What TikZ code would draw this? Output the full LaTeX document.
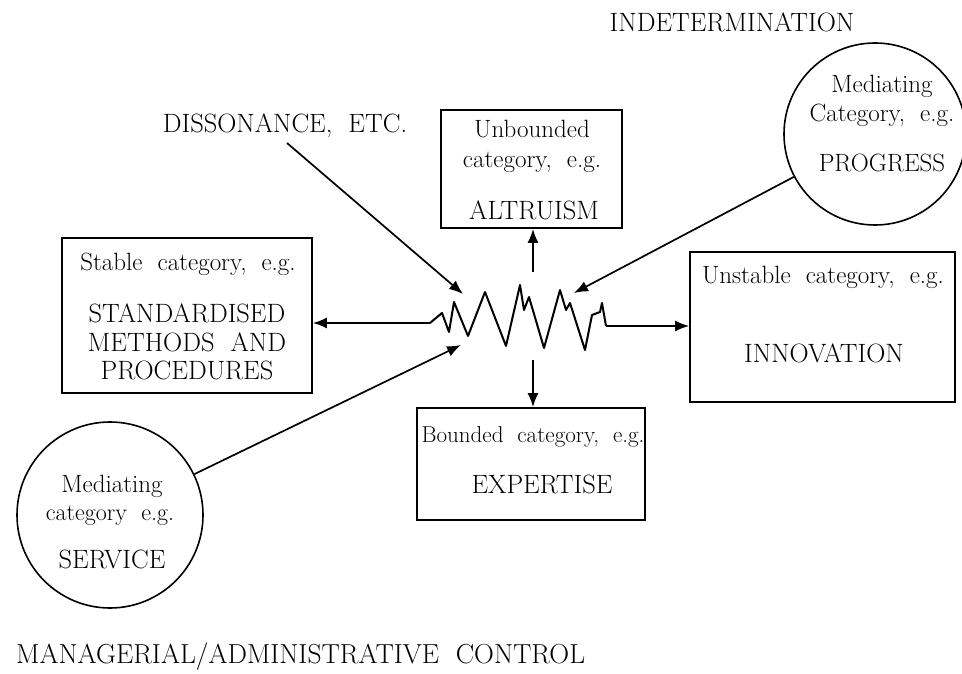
\documentclass[tikz,border=0pt]{standalone}
\usetikzlibrary{arrows.meta}
\begin{document}
\begin{tikzpicture}[x=1pt,y=-1pt,
  box/.style={draw,line width=1.8pt,rectangle,inner sep=0pt},
  ring/.style={draw,line width=1.6pt,circle,inner sep=0pt},
  txt/.style={inner sep=0pt,anchor=base,font=\fontsize{25}{30}\selectfont},
  captxt/.style={inner sep=0pt,anchor=base,font=\fontsize{26.5}{31}\selectfont},
  arr/.style={line width=1.7pt,-{Latex[length=14pt,width=11pt]}},
  wire/.style={line width=2pt,line join=round}]
\useasboundingbox (0,0) rectangle (962,674);

% boxes
\node[box,minimum width=250,minimum height=155] (stable) at (187,315.5) {};
\node[box,minimum width=181,minimum height=118] (unbounded) at (531.5,169) {};
\node[box,minimum width=265,minimum height=150] (unstable) at (822.5,327) {};
\node[box,minimum width=228,minimum height=112] (bounded) at (531,464) {};
\node[ring,minimum size=182] (prog) at (875,134) {};
\node[ring,minimum size=186] (serv) at (110,515) {};

% texts
\node[txt] (t1) at (188,270) {Stable\ \ category,\ \ e.g.};
\node[captxt] (t2) at (187,322) {STANDARDISED};
\node[captxt] (t3) at (187,351) {METHODS\ \ AND};
\node[captxt] (t4) at (187,379) {PROCEDURES};

\node[txt] (t5) at (532,138) {Unbounded};
\node[txt] (t6) at (532,168) {category,\ \ e.g.};
\node[captxt] (t7) at (534,220) {ALTRUISM};

\node[txt] (t8) at (823,283) {Unstable\ \ category,\ \ e.g.};
\node[captxt] (t9) at (824,362) {INNOVATION};

\node[txt,font=\fontsize{23}{28}\selectfont] (t10) at (533,442) {Bounded\ \ category,\ \ e.g.};
\node[captxt] (t11) at (542,493) {EXPERTISE};

\node[txt] (t12) at (882,93) {Mediating};
\node[txt] (t13) at (882,122) {Category,\ \ e.g.};
\node[txt] (t14) at (882,172) {PROGRESS};

\node[txt] (t15) at (112,492) {Mediating};
\node[txt,font=\fontsize{24}{29}\selectfont] (t16) at (110,520) {category\ \ e.g.};
\node[captxt] (t17) at (112,568) {SERVICE};

\node[captxt] (indet) at (732,32) {INDETERMINATION};
\node[captxt] (diss) at (285,133) {DISSONANCE,\ \ ETC.};
\node[inner sep=0pt,anchor=base west,font=\fontsize{27.5}{32}\selectfont] (mgr) at (16,663) {MANAGERIAL/ADMINISTRATIVE\ \ CONTROL};

% zigzag
\coordinate (zl) at (430,323);
\coordinate (zr) at (606,326);
\draw[wire] (zl) -- (442,313) -- (449,332) -- (454,302) -- (468,336) -- (485,292)
  -- (506,346) -- (520,285) -- (524,310) -- (529,297) -- (544,348) -- (560,290)
  -- (566,310) -- (570,303) -- (585,350) -- (592,315) -- (600,312) -- (602,303)
  -- (606,326) -- (zr);

% connectors
\coordinate (ut) at (533,272);
\coordinate (dt) at (533,360);
\coordinate (dstart) at (287,143);
\coordinate (dtip) at (463,294);
\coordinate (ptip) at (574,293);
\coordinate (stip) at (461,345);

\draw[arr] (zl) -- (zl -| stable.east);
\draw[arr] (zr) -- (zr -| unstable.west);
\draw[arr] (ut) -- (ut |- unbounded.south);
\draw[arr] (dt) -- (dt |- bounded.north);
\draw[arr] (dstart) -- (dtip);
\draw[arr] (prog) -- (ptip);
\draw[arr] (serv) -- (stip);
\end{tikzpicture}
\end{document}
